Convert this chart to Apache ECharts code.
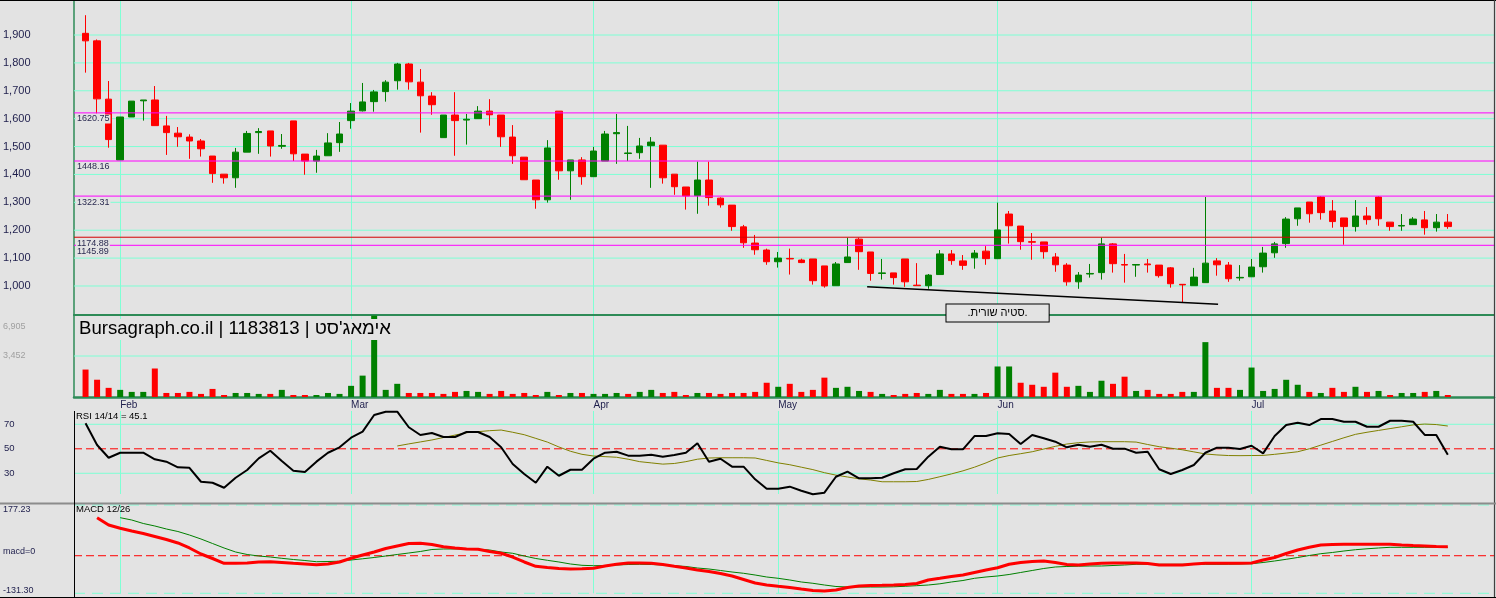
<!DOCTYPE html>
<html><head><meta charset="utf-8">
<script src="https://cdn.jsdelivr.net/npm/echarts@6/dist/echarts.min.js"></script>
<style>html,body{margin:0;padding:0;background:#e3e3e3;overflow:hidden}#c{width:1496px;height:598px}</style>
</head><body><div id="c"></div>
<script>
// ---------------- DATA ----------------
const monthNames = ['Jan','Feb','Mar','Apr','May','Jun','Jul'];
const monthDays  = [3, 20, 21, 16, 19, 22, 18];

// [open, close, low, high]
const ohlc = [
[1906,1879,1765,1971],[1879,1671,1619,1884],[1670,1525,1496,1735],[1452,1606,1452,1606],[1606,1663,1606,1663],
[1664,1667,1593,1667],[1667,1575,1575,1717],[1574,1550,1470,1610],[1548,1535,1499,1570],[1534,1520,1456,1544],
[1520,1492,1464,1527],[1466,1403,1370,1466],[1401,1388,1367,1401],[1388,1480,1352,1495],[1480,1547,1480,1556],
[1550,1554,1474,1566],[1556,1502,1464,1556],[1501,1504,1492,1545],[1592,1474,1448,1592],[1473,1448,1399,1473],
[1448,1466,1406,1488],[1467,1513,1467,1548],[1514,1545,1481,1588],[1593,1627,1564,1656],[1628,1660,1626,1728],
[1661,1696,1625,1703],[1697,1731,1661,1738],[1736,1796,1704,1800],[1796,1732,1704,1800],[1731,1682,1550,1778],
[1681,1650,1614,1695],[1532,1613,1532,1613],[1613,1593,1467,1695],[1595,1598,1507,1617],[1600,1627,1600,1645],
[1627,1614,1575,1670],[1613,1535,1499,1613],[1534,1467,1438,1577],[1462,1381,1381,1462],[1380,1309,1277,1380],
[1309,1495,1299,1523],[1627,1413,1381,1627],[1413,1452,1309,1452],[1452,1392,1363,1462],[1392,1484,1392,1499],
[1448,1545,1448,1556],[1546,1550,1438,1617],[1475,1477,1448,1574],[1478,1502,1456,1531],[1503,1516,1352,1534],
[1505,1388,1367,1505],[1401,1356,1327,1401],[1355,1323,1274,1355],[1324,1380,1259,1446],[1380,1317,1288,1446],
[1315,1291,1281,1318],[1290,1213,1198,1290],[1212,1155,1137,1219],[1154,1130,1112,1183],[1129,1087,1076,1134],
[1087,1100,1066,1122],[1099,1097,1041,1134],[1093,1084,1082,1098],[1097,1019,1005,1097],[1072,1000,994,1072],
[1001,1079,1001,1086],[1084,1104,1084,1173],[1168,1123,1058,1173],[1122,1045,1019,1122],[1045,1047,1023,1097],
[1047,1030,1005,1047],[1097,1015,997,1097],[1003,1001,1001,1082],[1001,1039,990,1043],[1041,1115,1041,1129],
[1115,1091,1076,1129],[1090,1074,1058,1111],[1101,1118,1062,1129],[1125,1098,1076,1143],[1098,1201,1098,1299],
[1258,1216,1152,1269],[1215,1159,1130,1215],[1159,1157,1094,1190],[1158,1123,1098,1158],[1104,1076,1051,1118],
[1075,1015,1001,1082],[1015,1039,990,1050],[1043,1045,1030,1079],[1048,1151,1023,1173],[1151,1080,1048,1154],
[1077,1075,1012,1115],[1075,1077,1033,1077],[1079,1076,1048,1097],[1075,1037,1030,1075],[1065,1008,994,1068],
[1006,1004,942,1006],[1001,1032,1001,1065],[1012,1082,1012,1319],[1090,1076,1037,1100],[1075,1026,1015,1086],
[1029,1031,1019,1075],[1033,1068,1033,1097],[1069,1118,1048,1140],[1119,1151,1101,1158],[1152,1240,1137,1247],
[1241,1280,1216,1280],[1301,1259,1227,1301],[1319,1263,1238,1322],[1269,1231,1209,1308],[1244,1213,1148,1244],
[1213,1251,1195,1308],[1251,1238,1220,1283],[1319,1241,1216,1322],[1229,1213,1198,1229],[1215,1217,1198,1258],
[1220,1240,1220,1247],[1237,1209,1184,1269],[1209,1229,1195,1258],[1229,1213,1205,1258]
];

const volume = [
2311,1455,770,600,430,430,2400,340,340,430,
260,680,170,340,340,260,260,600,170,170,
170,340,260,940,1800,6850,600,1110,340,340,
340,260,430,510,430,260,510,260,340,170,
430,170,340,340,260,260,340,260,430,600,
340,430,170,340,340,260,340,340,430,1200,
860,1110,430,600,1630,770,860,510,430,260,
170,260,340,260,600,260,260,260,340,2570,
2570,1200,1030,860,2050,860,940,430,1370,1110,
1710,510,600,260,260,430,430,4620,770,770,
600,2480,510,680,1450,1030,430,340,770,430,
860,430,510,170,340,340,430,510,170
];

const rsi = [
70.8,53.1,42.7,46.8,46.8,46.8,41.4,39.5,34.9,34.5,
23.1,22.3,18.2,26.4,32.7,42.2,48.4,40.0,32.1,31.1,
39.5,46.8,51.2,59.1,64.0,77.6,80.3,80.3,67.6,61.3,
62.9,59.6,59.6,63.7,63.7,59.6,51.3,37.6,29.4,22.3,
35.4,28.0,32.9,32.9,41.9,46.8,47.6,44.4,44.4,45.2,
43.6,44.9,46.8,54.5,39.5,41.9,35.4,35.4,25.1,17.4,
17.4,19.1,15.8,12.9,14.2,27.2,31.3,25.9,25.9,26.4,
30.0,33.3,33.5,43.6,51.7,49.6,49.6,60.4,60.4,62.7,
62.1,53.9,61.3,58.6,55.8,51.2,53.3,51.7,53.3,50.1,
50.1,46.8,47.6,33.3,29.4,32.7,36.8,46.8,50.9,50.9,
49.8,52.5,46.3,60.4,69.4,71.3,69.4,74.3,74.3,72.1,
72.1,68.0,68.0,72.9,72.9,72.1,61.3,61.3,45.1
];

const rsiMa = [
null,null,null,null,null,null,null,null,null,null,
null,null,null,null,null,null,null,null,null,null,
null,null,null,null,null,null,null,
52.3,54,55.6,57.2,59.2,61.2,63.1,64,64.8,65.3,
63.5,61.5,58.5,55.5,51.5,48,45.5,44.1,43.6,43.1,
41.5,39.5,38.5,37.5,38,39.5,41.5,42.5,42.7,42.7,
42.7,42.5,40.5,38.5,37,35,33,30.5,28.5,27,
25.5,24.5,23.1,23.1,23.1,23.3,25,27.2,29.5,32,
35,38.5,42.5,44.5,46,47.6,49.8,52,53.9,55,
55.6,55.8,55.8,55.8,55.5,53.5,51.7,50.5,49.2,47.5,
45.8,45,44.5,44.4,44.5,44.6,45.5,46.5,47.6,50,
53,56,59,61.8,63.5,65,66.5,68,69.5,70.2,
69.8,68.6
];

const macd = [
null,
132.9,107.3,95.8,86.4,77.6,67.2,56.7,44.5,27.0,6.0,
-9.7,-26.5,-26.5,-25.4,-21.9,-20.9,-23.7,-26.5,-28.9,-31.4,
-28.9,-21.9,-9.0,2.5,13.0,25.2,34.0,42.7,43.4,39.2,
31.5,27.0,23.5,22.4,14.8,8.5,-4.5,-21.9,-37.0,-41.1,
-44.6,-46.4,-45.7,-43.9,-35.9,-30.0,-25.4,-25.4,-26.5,-30.7,
-37.0,-42.9,-49.9,-55.1,-62.1,-70.8,-83.1,-95.3,-102.3,-106.8,
-111.0,-116.3,-121.5,-123.3,-119.8,-111.0,-105.8,-104.0,-103.3,-102.3,
-100.5,-97.0,-84.8,-78.9,-72.6,-67.4,-58.6,-49.9,-41.8,-30.0,
-23.7,-20.2,-18.4,-23.7,-30.7,-32.4,-28.9,-26.5,-25.4,-25.4,
-25.4,-27.2,-32.4,-32.4,-32.4,-28.9,-26.5,-26.5,-26.5,-26.5,
-25.4,-14.9,-6.2,7.8,20.0,29.4,37.5,39.2,39.9,39.9,
39.9,39.9,39.9,37.5,35.7,34.0,32.2,31.5
];

const signal = [
null,null,null,
132.9,124.8,112.6,103.9,93.4,84.6,72.4,58.4,42.7,27.0,
13.0,4.3,-1.0,-4.5,-9.0,-13.2,-16.7,-20.9,-20.2,-19.1,
-14.9,-10.7,-6.2,-1.0,4.3,9.5,14.8,21.7,23.5,23.5,
23.5,22.4,20.0,13.0,8.5,-1.0,-9.7,-16.0,-21.9,-28.9,
-33.5,-34.9,-34.2,-32.4,-30.7,-30.0,-30.7,-32.4,-34.9,-37.6,
-42.9,-46.4,-51.6,-56.9,-61.4,-67.4,-74.3,-78.9,-84.8,-91.8,
-96.3,-102.3,-107.5,-109.3,-109.3,-109.3,-109.3,-108.6,-106.8,-104.7,
-102.3,-98.1,-91.8,-86.6,-78.9,-74.3,-70.8,-65.6,-58.6,-51.6,
-44.6,-39.4,-37.6,-36.6,-35.9,-35.9,-34.2,-32.4,-30.0,-30.0,
-30.0,-30.0,-30.0,-30.0,-30.0,-30.0,-29.6,-28.9,-27.9,-23.7,
-18.4,-12.5,-6.2,0.8,7.1,11.3,16.5,21.0,24.2,27.0,
29.4,29.4,29.4,29.4,29.4,29.4
];

const priceTicks  = [1000,1100,1200,1300,1400,1500,1600,1700,1800,1900];
const levels      = [1620.75, 1448.16, 1322.31, 1174.88, 1145.89];
const volumeTicks = [3452, 6905];
const rsiTicks    = [30, 50, 70];
const macdTicks   = [-131.30, 0, 177.23];
const trendLine   = [[68.7, 997.5], [99.1, 934.4]];
const trendNote   = { at: [80, 903], text: '.סטיה שורית.' };
const titleText   = "Bursagraph.co.il | 1183813 | אימאג'סט";

// ---------------- BUILD ----------------
const categories = ['~s'];
monthNames.forEach((m, mi) => { for (let d = 1; d <= monthDays[mi]; d++) categories.push(m + '-' + d); });
for (let k = 0; k < 4; k++) categories.push('~e' + k);
const LAST = categories.length - 1;
const isMonthStart = (i) => { const c = categories[i]; return !!c && /-1$/.test(c) && !c.startsWith('Jan'); };

const FF = '"Liberation Sans", Arial, sans-serif';
const AQUA = '#7fffd4', NAVY = '#1e1e4c', UP = '#008000', DOWN = '#ff0000';

const candleData = ohlc.map((d, i) => [i + 1, d[0], d[1], d[2], d[3]]);
const volData = volume.map((v, i) => {
  const c = ohlc[i][1];
  const prev = i === 0 ? ohlc[i][0] : ohlc[i - 1][1];
  return { value: [i + 1, v], itemStyle: { color: c > prev ? UP : DOWN } };
});
const toPairs = (arr) => arr.map((v, i) => (v == null ? null : [i + 1, v])).filter(Boolean);

function catAxis(gridIndex, extra) {
  return Object.assign({
    type: 'category', gridIndex, data: categories, boundaryGap: false,
    axisTick: { show: false }, axisLabel: { show: false }, axisLine: { show: false },
    splitLine: { show: true, interval: (i) => isMonthStart(i), lineStyle: { color: AQUA, width: 1 } }
  }, extra || {});
}
const valAxis = (gridIndex) => ({ type: 'value', gridIndex, min: 0, max: LAST, show: false });
const gridBase = { left: 74, right: 2, containLabel: false, outerBoundsMode: 'none' };

// horizontal reference line drawn as a 2-point line series across the whole panel
function hRef(xi, yi, v, color, type, z, labelText) {
  const s = {
    type: 'line', xAxisIndex: xi, yAxisIndex: yi, data: [[0, v], [LAST, v]],
    symbol: 'none', silent: true, z: z, clip: false,
    lineStyle: { color, width: 1, type: type || 'solid' }, emphasis: { disabled: true }
  };
  if (labelText) {
    s.markPoint = { silent: true, symbol: 'rect', symbolSize: 0, z: z + 1, data: [{ coord: [0, v],
      label: { show: true, position: 'inside', align: 'left', verticalAlign: 'top', offset: [2, 1.5],
        formatter: labelText, color: '#2a2a50', fontSize: 9, fontFamily: FF,
        backgroundColor: '#e3e3e3', padding: [0, 1] } }] };
  }
  return s;
}

const series = [];
// grid lines
priceTicks.forEach((v) => series.push(hRef(4, 0, v, AQUA, 'solid', 1)));
series.push(hRef(5, 1, volumeTicks[0], AQUA, 'solid', 1));
series.push(hRef(6, 2, rsiTicks[0], AQUA, 'solid', 1));
series.push(hRef(6, 2, rsiTicks[2], AQUA, 'solid', 1));
series.push(hRef(6, 2, rsiTicks[1], '#ff0000', [8, 4], 1));
series.push(hRef(7, 3, macdTicks[2], AQUA, [11, 7], 1));
series.push(hRef(7, 3, macdTicks[0], AQUA, [11, 7], 1));
series.push(hRef(7, 3, macdTicks[1], '#ff0000', [8, 4], 1));
// candles
series.push({ type: 'candlestick', xAxisIndex: 0, yAxisIndex: 0, data: candleData, encode: { x: 0, y: [1, 2, 3, 4] },
  barWidth: 7, clip: false, silent: true, z: 2,
  itemStyle: { color: UP, color0: DOWN, borderColor: UP, borderColor0: DOWN, borderWidth: 1 } });
// levels
levels.forEach((v, i) => series.push(hRef(4, 0, v, i === 3 ? '#d40000' : '#ff00ff', 'solid', 5, v.toFixed(2))));
// trend line + note
series.push({ type: 'line', xAxisIndex: 4, yAxisIndex: 0, data: trendLine, symbol: 'none', silent: true, z: 6,
  lineStyle: { color: '#000', width: 1.5 },
  markPoint: { silent: true, symbol: 'rect', symbolSize: 0, data: [{ coord: trendNote.at,
    label: { show: true, position: 'inside', formatter: trendNote.text, color: '#000', fontSize: 11, fontFamily: FF,
      backgroundColor: '#e3e3e3', borderColor: '#000', borderWidth: 1, padding: [3, 21, 3, 21] } }] } });
// volume
series.push({ type: 'bar', xAxisIndex: 1, yAxisIndex: 1, data: volData, barWidth: 6, silent: true, clip: false, z: 2 });
// RSI
series.push({ type: 'line', xAxisIndex: 2, yAxisIndex: 2, data: toPairs(rsiMa), symbol: 'none', clip: false, silent: true, z: 2,
  lineStyle: { color: '#808000', width: 1 } });
series.push({ type: 'line', xAxisIndex: 2, yAxisIndex: 2, data: toPairs(rsi), symbol: 'none', clip: false, silent: true, z: 3,
  lineStyle: { color: '#000', width: 2 } });
// MACD
series.push({ type: 'line', xAxisIndex: 3, yAxisIndex: 3, data: toPairs(signal), symbol: 'none', clip: false, silent: true, z: 2,
  lineStyle: { color: '#008000', width: 1 } });
series.push({ type: 'line', xAxisIndex: 3, yAxisIndex: 3, data: toPairs(macd), symbol: 'none', clip: false, silent: true, z: 3,
  lineStyle: { color: '#ff0000', width: 3 } });

const chart = echarts.init(document.getElementById('c'), null, { renderer: 'canvas' });
chart.setOption({
  animation: false,
  backgroundColor: '#e3e3e3',
  textStyle: { fontFamily: FF },
  title: [
    { text: titleText, left: 77, top: 319, padding: [0, 2, 2, 2], backgroundColor: '#e3e3e3',
      textStyle: { fontSize: 18.6, fontWeight: 'normal', color: '#000', fontFamily: FF } },
    { text: 'RSI 14/14 = ' + rsi[rsi.length - 1], left: 76, top: 411, padding: 0,
      textStyle: { fontSize: 9.5, fontWeight: 'normal', color: '#000', fontFamily: FF } },
    { text: 'MACD 12/26', left: 76, top: 504.5, padding: 0,
      textStyle: { fontSize: 9.5, fontWeight: 'normal', color: '#000', fontFamily: FF } }
  ],
  grid: [
    Object.assign({ top: 0, height: 315 }, gridBase),
    Object.assign({ top: 315, height: 82 }, gridBase),
    Object.assign({ top: 411, height: 83 }, gridBase),
    Object.assign({ top: 505, height: 88.3 }, gridBase)
  ],
  xAxis: [
    catAxis(0, { axisLine: { show: true, onZero: false, lineStyle: { color: '#2e8b57', width: 2 } } }),
    catAxis(1, {
      axisLine: { show: true, onZero: false, lineStyle: { color: '#2e8b57', width: 2.5 } },
      axisLabel: { show: true, interval: (i) => isMonthStart(i), formatter: (v) => v.split('-')[0],
        align: 'left', margin: 3, color: NAVY, fontSize: 10, fontFamily: FF }
    }),
    catAxis(2),
    catAxis(3),
    valAxis(0), valAxis(1), valAxis(2), valAxis(3)
  ],
  yAxis: [
    { type: 'value', gridIndex: 0, min: 896, max: 2025.5, splitLine: { show: false }, axisTick: { show: false },
      axisLine: { show: true, lineStyle: { color: '#2e8b57', width: 1.5 } },
      axisLabel: { customValues: priceTicks, formatter: (v) => v.toLocaleString('en-US'), align: 'left', margin: 71,
        color: NAVY, fontSize: 11, fontFamily: FF } },
    { type: 'value', gridIndex: 1, min: 0, max: volumeTicks[1], splitLine: { show: false }, axisTick: { show: false },
      axisLine: { show: true, lineStyle: { color: '#2e8b57', width: 1.5 } },
      axisLabel: { customValues: volumeTicks, align: 'left', margin: 71, color: '#a0a0a0', fontSize: 9, fontFamily: FF,
        formatter: (v) => v === volumeTicks[1] ? '{t|' + v.toLocaleString('en-US') + '}' : v.toLocaleString('en-US'),
        rich: { t: { padding: [24, 0, 0, 0], color: '#a0a0a0', fontSize: 9, fontFamily: FF } } } },
    { type: 'value', gridIndex: 2, min: 13.1, max: 80.86, splitLine: { show: false }, axisTick: { show: false },
      axisLine: { show: false },
      axisLabel: { customValues: rsiTicks, align: 'left', margin: 70, color: NAVY, fontSize: 9.5, fontFamily: FF } },
    { type: 'value', gridIndex: 3, min: macdTicks[0], max: macdTicks[2], splitLine: { show: false }, axisTick: { show: false },
      axisLine: { show: false },
      axisLabel: { customValues: macdTicks, align: 'left', margin: 71, color: NAVY, fontSize: 9, fontFamily: FF,
        formatter: (v) => v === 0 ? '{z|macd=0}' : (v > 0 ? '{hi|' + v.toFixed(2) + '}' : '{lo|' + v.toFixed(2) + '}'),
        rich: {
          hi: { padding: [10, 0, 0, 0], color: NAVY, fontSize: 9, fontFamily: FF },
          lo: { padding: [0, 0, 5, 0], color: NAVY, fontSize: 9, fontFamily: FF },
          z:  { padding: [0, 0, 8, 0], color: NAVY, fontSize: 9, fontFamily: FF }
        } } }
  ],
  series: series,
  graphic: [
    { type: 'line', silent: true, z: 50, shape: { x1: 0, y1: 0.5, x2: 1496, y2: 0.5 }, style: { stroke: '#000', lineWidth: 1 } },
    { type: 'line', silent: true, z: 50, shape: { x1: 1494.5, y1: 0, x2: 1494.5, y2: 598 }, style: { stroke: '#404040', lineWidth: 1.2 } },
    { type: 'line', silent: true, z: 50, shape: { x1: 0, y1: 503.5, x2: 1496, y2: 503.5 }, style: { stroke: '#8c8c8c', lineWidth: 2 } },
    { type: 'line', silent: true, z: 50, shape: { x1: 0, y1: 597.5, x2: 1496, y2: 597.5 }, style: { stroke: '#000', lineWidth: 1 } },
    { type: 'line', silent: true, z: 50, shape: { x1: 74.5, y1: 411, x2: 74.5, y2: 598 }, style: { stroke: '#000', lineWidth: 1 } }
  ]
});
</script></body></html>
